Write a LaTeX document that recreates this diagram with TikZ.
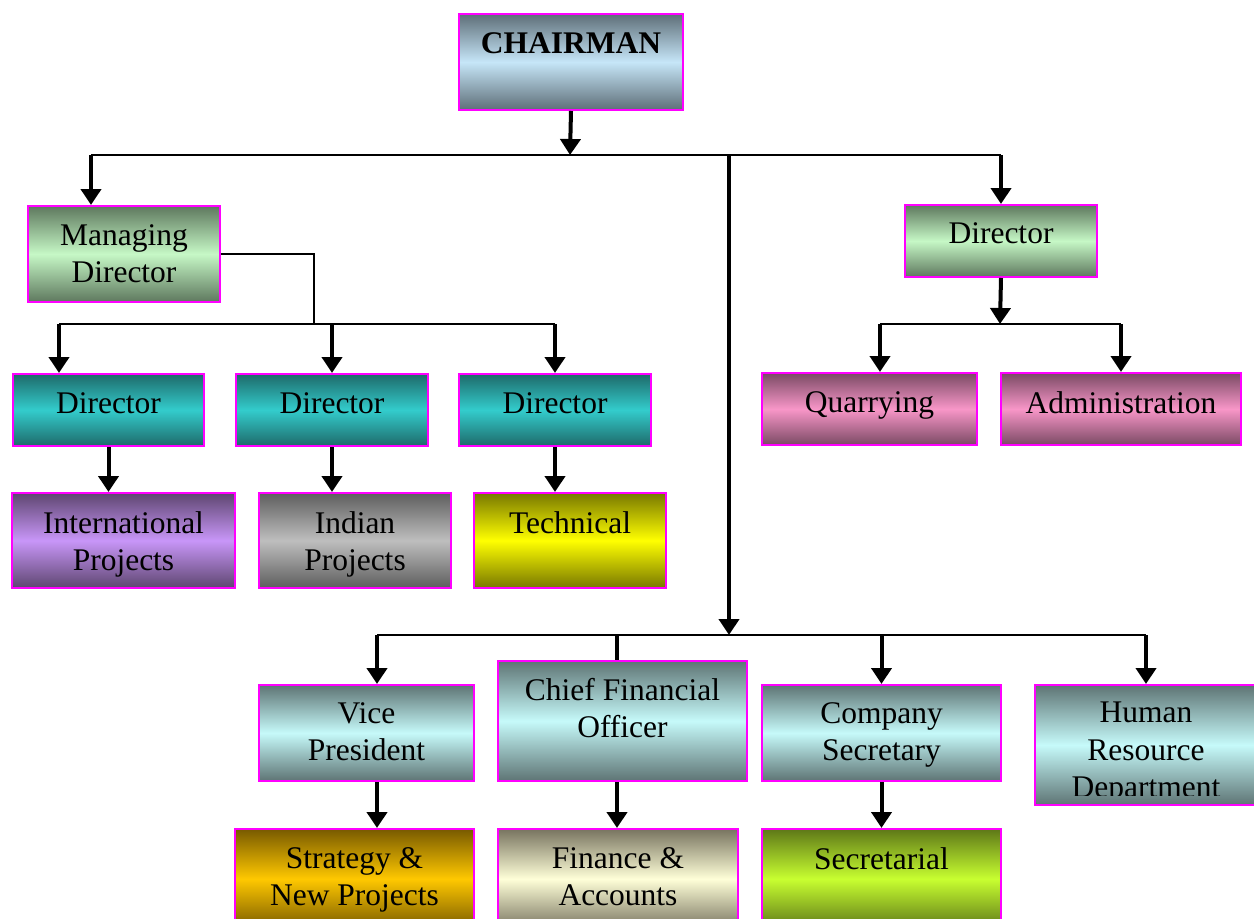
\documentclass[tikz,border=0pt]{standalone}
\usepackage{fontspec}
\setmainfont{Liberation Serif}
\usetikzlibrary{arrows.meta}
\usetikzlibrary{positioning}

\definecolor{edge}{HTML}{FF00FF}
\definecolor{chairL}{HTML}{C6E6F8}  \definecolor{chairD}{HTML}{5E6E78}
\definecolor{greenL}{HTML}{C6F8C6}  \definecolor{greenD}{HTML}{5E785E}
\definecolor{tealL}{HTML}{33CCCC}   \definecolor{tealD}{HTML}{1E6A6A}
\definecolor{purpL}{HTML}{C896F8}   \definecolor{purpD}{HTML}{5E4670}
\definecolor{greyL}{HTML}{BEBEBE}   \definecolor{greyD}{HTML}{5E5E5E}
\definecolor{yellL}{HTML}{FFFF00}   \definecolor{yellD}{HTML}{787800}
\definecolor{pinkL}{HTML}{F896C8}   \definecolor{pinkD}{HTML}{7A4A64}
\definecolor{cyanL}{HTML}{C6FAFA}   \definecolor{cyanD}{HTML}{5E7474}
\definecolor{orngL}{HTML}{FFC800}   \definecolor{orngD}{HTML}{785A00}
\definecolor{creamL}{HTML}{FFFFD8}  \definecolor{creamD}{HTML}{787460}
\definecolor{limeL}{HTML}{C8FF30}   \definecolor{limeD}{HTML}{5E7818}

\begin{document}
\begin{tikzpicture}[x=1pt, y=-1pt,
      box/.style ={draw=edge, line width=2pt, anchor=north west, inner sep=0pt},
      grad/.style 2 args={top color=#2, bottom color=#2, middle color=#1},
      txt/.style ={anchor=north, align=center, inner sep=0pt, font=\fontsize{31.5}{37.5}\selectfont},
      arr/.style ={line width=4pt, -{Triangle[length=16pt, width=20pt]}},
      bus/.style ={line width=2pt}
    ]
    \useasboundingbox (0,0) rectangle (1254,919);
    \clip (0,0) rectangle (1254,919);

    % boxes
    \node [box, grad={chairL}{chairD}, minimum width=224, minimum height=96] (chair) at (458,13) {};
    \node [box, grad={greenL}{greenD}, minimum width=192, minimum height=96] (md) at (27,205) {};
    \node [box, grad={greenL}{greenD}, minimum width=192, minimum height=72] (dirR) at (904,204) {};
    \node [box, grad={tealL}{tealD}, minimum width=191, minimum height=72] (dA) at (12,373) {};
    \node [box, grad={tealL}{tealD}, minimum width=192, minimum height=72] (dB) at (235,373) {};
    \node [box, grad={tealL}{tealD}, minimum width=192, minimum height=72] (dC) at (458,373) {};
    \node [box, grad={purpL}{purpD}, minimum width=223, minimum height=95] (intl) at (11,492) {};
    \node [box, grad={greyL}{greyD}, minimum width=192, minimum height=95] (indian) at (258,492) {};
    \node [box, grad={yellL}{yellD}, minimum width=192, minimum height=95] (tech) at (473,492) {};
    \node [box, grad={pinkL}{pinkD}, minimum width=215, minimum height=72] (quarry) at (761,372) {};
    \node [box, grad={pinkL}{pinkD}, minimum width=240, minimum height=72] (admin) at (1000,372) {};
    \node [box, grad={cyanL}{cyanD}, minimum width=215, minimum height=96] (vp) at (258,684) {};
    \node [box, grad={cyanL}{cyanD}, minimum width=249, minimum height=120] (cfo) at (497,660) {};
    \node [box, grad={cyanL}{cyanD}, minimum width=239, minimum height=96] (cs) at (761,684) {};
    \node [box, grad={cyanL}{cyanD}, minimum width=222, minimum height=120] (hr) at (1034,684) {};
    \node [box, grad={orngL}{orngD}, minimum width=239, minimum height=100] (strat) at (234,828) {};
    \node [box, grad={creamL}{creamD}, minimum width=240, minimum height=100] (fin) at (497,828) {};
    \node [box, grad={limeL}{limeD}, minimum width=239, minimum height=100] (secr) at (761,828) {};

    % texts
    \node [txt, font=\fontsize{31.5}{37.5}\selectfont\bfseries, below=19pt of chair.north] (chair-t) {CHAIRMAN};
    \node [txt, below=19pt of md.north] (md-t) {Managing\\Director};
    \node [txt, below=18pt of dirR.north] (dirR-t) {Director};
    \node [txt, below=19pt of dA.north] (dA-t) {Director};
    \node [txt, below=19pt of dB.north] (dB-t) {Director};
    \node [txt, below=19pt of dC.north] (dC-t) {Director};
    \node [txt, below=19pt of intl.north] (intl-t) {International\\Projects};
    \node [txt, below=19pt of indian.north] (indian-t) {Indian\\Projects};
    \node [txt, below=19pt of tech.north] (tech-t) {Technical};
    \node [txt, below=19pt of quarry.north] (quarry-t) {Quarrying};
    \node [txt, below=19pt of admin.north] (admin-t) {Administration};
    \node [txt, below=18pt of vp.north] (vp-t) {Vice\\President};
    \node [txt, below=18pt of cfo.north] (cfo-t) {Chief Financial\\Officer};
    \node [txt, below=18pt of cs.north] (cs-t) {Company\\Secretary};
    \begin{scope}
      \clip (hr.north west) rectangle ([yshift=11pt]hr.south east);
      \node [txt, below=18pt of hr.north] (hr-t) {Human\\Resource\\Department};
    \end{scope}
    \node [txt, below=19pt of strat.north] (strat-t) {Strategy \&\\New Projects};
    \node [txt, below=19pt of fin.north] (fin-t) {Finance \&\\Accounts};
    \node [txt, below=19pt of secr.north] (secr-t) {Secretarial};

    % connectors
    \coordinate (hub) at (570,155);
    \coordinate (mdIn) at (91,205);
    \coordinate (trunk) at (729,155);
    \coordinate (lowhub) at (729,635);
    \draw [arr] (chair.south) -- (hub);
    \draw [bus] (mdIn |- hub) -- (dirR.north |- hub);
    \draw [arr] (mdIn |- hub) -- (mdIn);
    \draw [arr] (dirR.north |- hub) -- (dirR.north);
    \draw [arr] (trunk) -- (lowhub);

    \coordinate (mdbend) at (314,324);
    \coordinate (dAin) at (59,373);
    \draw [bus] (md.east) -| (mdbend);
    \draw [bus] (dAin |- mdbend) -- (dC.north |- mdbend);
    \draw [arr] (dAin |- mdbend) -- (dAin);
    \draw [arr] (dB.north |- mdbend) -- (dB.north);
    \draw [arr] (dC.north |- mdbend) -- (dC.north);
    \draw [arr] (dA.south) -- (dA.south |- intl.north);
    \draw [arr] (dB.south) -- (dB.south |- indian.north);
    \draw [arr] (dC.south) -- (dC.south |- tech.north);

    \coordinate (rhub) at (1000,324);
    \coordinate (quarryIn) at (880,372);
    \draw [arr] (dirR.south) -- (rhub);
    \draw [bus] (quarryIn |- rhub) -- (admin.north |- rhub);
    \draw [arr] (quarryIn |- rhub) -- (quarryIn);
    \draw [arr] (admin.north |- rhub) -- (admin.north);

    \coordinate (vpIn) at (377,684);
    \coordinate (cfoIn) at (617,660);
    \draw [bus] (vpIn |- lowhub) -- (hr.north |- lowhub);
    \draw [arr] (vpIn |- lowhub) -- (vpIn);
    \draw [line width=4pt] (cfoIn |- lowhub) -- (cfoIn);
    \draw [arr] (cs.north |- lowhub) -- (cs.north);
    \draw [arr] (hr.north |- lowhub) -- (hr.north);
    \draw [arr] (vpIn |- vp.south) -- (vpIn |- strat.north);
    \draw [arr] (cfoIn |- cfo.south) -- (cfoIn |- fin.north);
    \draw [arr] (cs.south) -- (cs.south |- secr.north);
  \end{tikzpicture}
\end{document}
